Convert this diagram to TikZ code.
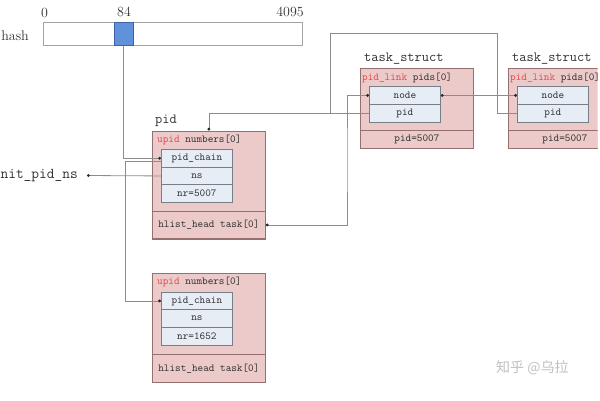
\documentclass[tikz,border=0pt]{standalone}
\usepackage{fontspec}
\newfontfamily\cjkwm{Noto Sans CJK SC}
\usetikzlibrary{arrows.meta}
\definecolor{boxfill}{RGB}{236,202,202}
\definecolor{boxline}{RGB}{150,112,112}
\definecolor{infill}{RGB}{230,237,245}
\definecolor{inline}{RGB}{120,126,136}
\definecolor{lineclr}{RGB}{140,140,140}
\definecolor{txt}{RGB}{50,50,50}
\definecolor{redtxt}{RGB}{235,72,72}
\definecolor{cellblue}{RGB}{96,145,218}
\definecolor{cellline}{RGB}{60,100,170}
\newcommand\monosm{\ttfamily\fontsize{10.7}{12}\selectfont}
\newcommand\monobg{\ttfamily\fontsize{14}{16}\selectfont}
\newcommand\monoxl{\ttfamily\fontsize{15}{17}\selectfont}
\newcommand\serifbg{\rmfamily\fontsize{14}{16}\selectfont}
\begin{document}
\begin{tikzpicture}[x=1pt,y=-1pt,
  outerbox/.style={draw=boxline, fill=boxfill, line width=0.8pt, inner sep=0pt, anchor=north west, font=\monosm, text=txt},
  innerbox/.style={draw=inline, fill=infill, line width=0.8pt, inner sep=0pt, anchor=north west, font=\monosm, text=txt},
  smalllbl/.style={anchor=west, inner sep=0pt, font=\monosm, text=txt},
  biglbl/.style={inner sep=0pt, font=\monobg, text=txt},
  numlbl/.style={inner sep=0pt, font=\serifbg, text=txt},
  hashbar/.style={draw=lineclr!80, fill=white, line width=0.8pt, inner sep=0pt, anchor=north west},
  hashcell/.style={draw=cellline, fill=cellblue, line width=0.6pt, inner sep=0pt, anchor=north west},
  conn/.style={draw=lineclr, line width=0.8pt},
  dotend/.style={-{Circle[length=2.8pt,color=black!85]}},
  dotboth/.style={{Circle[length=2.8pt,color=black!85]}-{Circle[length=2.8pt,color=black!85]}}
]
\useasboundingbox (0,0) rectangle (600,400);
\begin{scope}
\clip (-20,-5) rectangle (597.5,405);

% hash table
\node[hashbar, minimum width=259pt, minimum height=23pt] (hash) at (43,22) {};
\node[hashcell, minimum width=19pt, minimum height=23pt] (cell) at (114,22) {};
\node[numlbl, anchor=east] (hashlbl) at (29,36) {hash};
\node[numlbl] (n0) at (44.5,12.5) {0};
\node[numlbl] (n84) at (124,12) {84};
\node[numlbl, anchor=east] (n4095) at (304,11.5) {4095};

% pid (first)
\node[biglbl, anchor=west] (pidtitle) at (155,121) {pid};
\node[outerbox, minimum width=113pt, minimum height=108pt] (pid1) at (152,130.5) {};
\node[outerbox, minimum width=113pt, minimum height=27.7pt] (hl1) at (152,210.7) {hlist\_head task[0]};
\node[smalllbl] (up1) at (157,139.5) {\textcolor{redtxt}{upid} numbers[0]};
\node[innerbox, minimum width=71pt, minimum height=17.7pt] (pc1) at (161,149) {pid\_chain};
\node[innerbox, minimum width=71pt, minimum height=17.7pt] (ns1) at (161,166.7) {ns};
\node[innerbox, minimum width=71pt, minimum height=17.7pt] (nr1) at (161,184.4) {nr=5007};

% pid (second)
\node[outerbox, minimum width=113pt, minimum height=108.7pt] (pid2) at (152,273) {};
\node[outerbox, minimum width=113pt, minimum height=27.7pt] (hl2) at (152,354) {hlist\_head task[0]};
\node[smalllbl] (up2) at (157,281.5) {\textcolor{redtxt}{upid} numbers[0]};
\node[innerbox, minimum width=71pt, minimum height=17.7pt] (pc2) at (161,291.7) {pid\_chain};
\node[innerbox, minimum width=71pt, minimum height=17.7pt] (ns2) at (161,309.4) {ns};
\node[innerbox, minimum width=71pt, minimum height=17.7pt] (nr2) at (161,327.1) {nr=1652};

% init_pid_ns
\node[inner sep=0pt, font=\monoxl, text=txt, anchor=east] (initlbl) at (78,175.5) {init\_pid\_ns};
\coordinate (initdot) at (87,175.5);

% task_struct (first)
\node[biglbl, anchor=west] (tt1) at (364,59) {task\_struct};
\node[outerbox, minimum width=113pt, minimum height=80pt] (ts1) at (360,68) {};
\node[outerbox, minimum width=113pt, minimum height=18pt] (pv1) at (360,130) {pid=5007};
\node[smalllbl] (pl1) at (362,78) {\textcolor{redtxt}{pid\_link} pids[0]};
\node[innerbox, minimum width=71pt, minimum height=18pt] (tn1) at (369,86) {node};
\node[innerbox, minimum width=71pt, minimum height=17.7pt] (tp1) at (369,104) {pid};

% task_struct (second)
\node[biglbl, anchor=west] (tt2) at (512,59) {task\_struct};
\node[outerbox, minimum width=113pt, minimum height=80pt] (ts2) at (508,68) {};
\node[outerbox, minimum width=113pt, minimum height=18pt] (pv2) at (508,130) {pid=5007};
\node[smalllbl] (pl2) at (510,78) {\textcolor{redtxt}{pid\_link} pids[0]};
\node[innerbox, minimum width=71pt, minimum height=18pt] (tn2) at (517,86) {node};
\node[innerbox, minimum width=71pt, minimum height=17.7pt] (tp2) at (517,104) {pid};

% helper coordinates
\coordinate (chainx) at (125.5,200);
\coordinate (loopR) at (497,33);
\coordinate (loopL) at (330,33);
\coordinate (hlx) at (347,160);

% connectors
\draw[conn, dotend] (cell.south) |- (pc1.west);
\draw[conn, dotend] ([yshift=-3pt]pc1.west) -| (chainx) |- (pc2.west);
\draw[conn, dotend] (ns1.west) -- (initdot);
\draw[conn, dotend] (tp1.west) -| (pid1.north);
\draw[conn] (tp2.west) -| (loopR) -| (loopL |- tp1.west);
\draw[conn, dotboth] (hl1.east) -| (hlx) |- (tn1.west);
\draw[conn, dotboth] (tn1.east) -- (tn2.west);

% watermark
\node[anchor=west, inner sep=0pt, text=black!25, font=\cjkwm\fontsize{14}{16}\selectfont] (wm) at (496,368) {知乎\ @乌拉};
\end{scope}
\end{tikzpicture}
\end{document}
